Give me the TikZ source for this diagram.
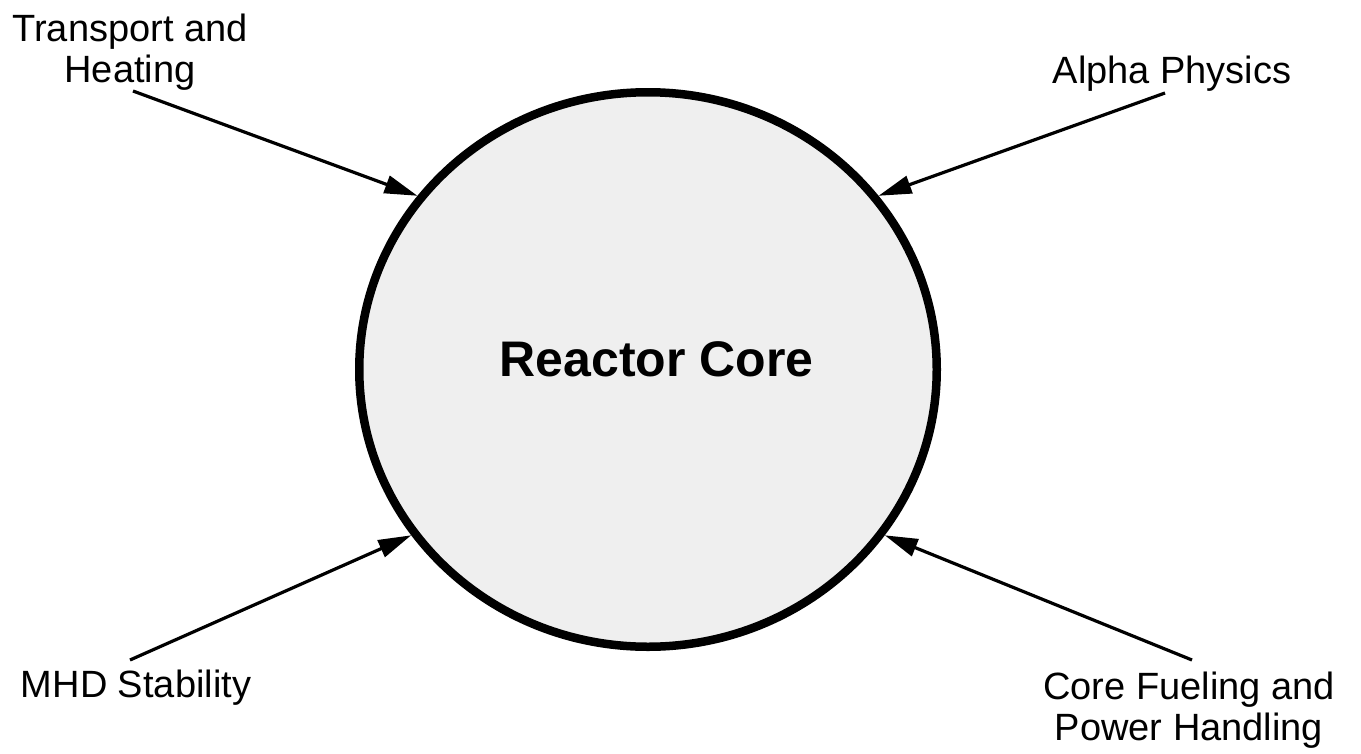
\documentclass[tikz,border=0pt]{standalone}
\usepackage{fontspec}
\setmainfont{Liberation Sans}
\usetikzlibrary{arrows.meta,shapes.geometric}
\definecolor{corefill}{HTML}{EFEFEF}

\begin{document}
\begin{tikzpicture}[x=1pt,y=-1pt]
            \tikzset{core/.style = {shape=ellipse,draw,line width=8.5pt,fill=corefill,minimum width=577.5pt,minimum height=554.5pt,inner sep=0pt}}
            \tikzset{topic/.style = {anchor=north,inner sep=0pt,align=center,font=\fontsize{38}{40.5}\selectfont}}
            \tikzset{edge/.style = {-{Triangle[length=33pt,width=18pt]},line width=3.2pt}}
            \useasboundingbox (0,0) rectangle (1361,753);
            % vertices
            \node[core] (core) at (648,369.5) {};
            \node[anchor=north,inner sep=0pt,font=\bfseries\fontsize{50}{50}\selectfont] (title) at (656.5,341) {Reactor Core};
            \node[topic] (transport) at (130,14) {Transport and\\Heating};
            \node[topic] (alpha) at (1172,56) {Alpha Physics};
            \node[topic] (mhd) at (136,670) {MHD Stability};
            \node[topic] (fueling) at (1189,672) {Core Fueling and\\Power Handling};
            % tails
            \coordinate (transport tail) at (133,91);
            \coordinate (alpha tail) at (1165,93);
            \coordinate (mhd tail) at (130,660);
            \coordinate (fueling tail) at (1192,660);
            % edges
            \draw[edge] (transport tail) to (core.143.7);
            \draw[edge] (alpha tail) to (core.37.9);
            \draw[edge] (mhd tail) to (core.215.5);
            \draw[edge] (fueling tail) to (core.325);
        \end{tikzpicture}
\end{document}
